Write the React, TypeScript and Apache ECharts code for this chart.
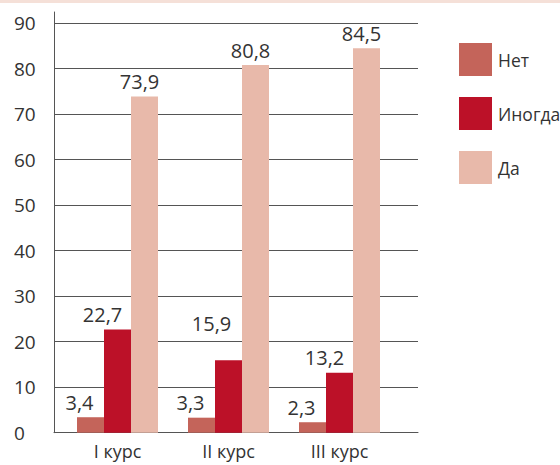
import React, { useEffect, useRef } from "react";
import * as echarts from "echarts";

const categories = ["I курс", "II курс", "III курс"];
const seriesNames = ["Нет", "Иногда", "Да"];
const noValues = [3.4, 3.3, 2.3];
const sometimesValues = [22.7, 15.9, 13.2];
const yesValues = [73.9, 80.8, 84.5];
const yTicks = [0, 10, 20, 30, 40, 50, 60, 70, 80, 90];

const colors = ["#c4645a", "#bc1128", "#e8b9aa"];
const labelOffsetX = [-11, -15, -5];
const FONT = "'Open Sans', sans-serif";

const fmt = (v: number) => v.toFixed(1).replace(".", ",");

export default function App() {
  const ref = useRef<HTMLDivElement>(null);
  useEffect(() => {
    if (!ref.current) return;
    const chart = echarts.init(ref.current, undefined, { renderer: "svg" });
    const valueSets = [noValues, sometimesValues, yesValues];
    const yMin = yTicks[0];
    const yMax = yTicks[yTicks.length - 1];
    const yStep = yTicks[1] - yTicks[0];
    const gridTop = 23.2;
    const gridBottom = 32.3;
    const axisColor = "#555";

    const series = valueSets.map((vals, si) => ({
      name: seriesNames[si],
      type: "bar",
      xAxisIndex: 2,
      yAxisIndex: 2,
      barWidth: 27,
      barGap: "0%",
      itemStyle: { color: colors[si] },
      label: {
        show: true,
        position: "top",
        distance: 5,
        offset: [labelOffsetX[si], 0],
        color: "#333",
        fontFamily: FONT,
        fontSize: 20,
        formatter: (p: any) => fmt(p.value),
      },
      data: vals.map((v, i) =>
        si === 1 && i === 1
          ? { value: v, label: { offset: [labelOffsetX[si] - 2, -22] } }
          : v
      ),
    }));

    chart.setOption({
      animation: false,
      graphic: [
        {
          type: "rect",
          shape: { x: 0, y: 0, width: 560, height: 3 },
          style: { fill: "#f5e0d8" },
          silent: true,
        },
      ],
      legend: {
        orient: "vertical",
        left: 454,
        top: 38,
        itemWidth: 33,
        itemHeight: 33,
        itemGap: 21,
        icon: "rect",
        data: seriesNames,
        textStyle: { fontFamily: FONT, fontSize: 17.5, color: "#333", padding: [0, 0, 0, 1] },
      },
      grid: [
        { left: 54, right: 142, top: 12, bottom: gridBottom },
        { left: 54, right: 142, top: gridTop, bottom: gridBottom },
        { left: 62, right: 165, top: gridTop, bottom: gridBottom },
      ],
      xAxis: [
        {
          gridIndex: 0,
          type: "value",
          min: 0,
          max: 1,
          axisLine: { show: true, lineStyle: { color: axisColor, width: 1 } },
          axisTick: { show: false },
          axisLabel: { show: false },
          splitLine: { show: false },
        },
        {
          gridIndex: 1,
          type: "value",
          min: 0,
          max: 1,
          show: false,
        },
        {
          gridIndex: 2,
          type: "category",
          data: categories,
          axisLine: { show: false },
          axisTick: { show: false },
          axisLabel: {
            margin: 9,
            color: "#333",
            fontFamily: FONT,
            fontSize: 18,
            lineHeight: 18,
          },
        },
      ],
      yAxis: [
        {
          gridIndex: 0,
          type: "value",
          min: 0,
          max: yMax + ((gridTop - 12) / (465 - gridTop - gridBottom)) * (yMax - yMin),
          axisLine: { show: true, lineStyle: { color: axisColor, width: 1 } },
          axisTick: { show: false },
          axisLabel: { show: false },
          splitLine: { show: false },
        },
        {
          gridIndex: 1,
          type: "value",
          min: yMin,
          max: yMax,
          interval: yStep,
          axisLine: { show: false },
          axisTick: { show: false },
          axisLabel: {
            align: "left",
            margin: 40,
            color: "#333",
            fontFamily: FONT,
            fontSize: 19,
            padding: [6, 0, 0, 0],
          },
          splitLine: { show: true, lineStyle: { color: axisColor, width: 1 } },
        },
        {
          gridIndex: 2,
          type: "value",
          min: yMin,
          max: yMax,
          interval: yStep,
          show: false,
          splitLine: { show: false },
        },
      ],
      series,
    });
    return () => chart.dispose();
  }, []);
  return (
    <div
      ref={ref}
      style={{ position: "fixed", left: 0, top: 0, width: 560, height: 465, background: "#fff" }}
    />
  );
}
